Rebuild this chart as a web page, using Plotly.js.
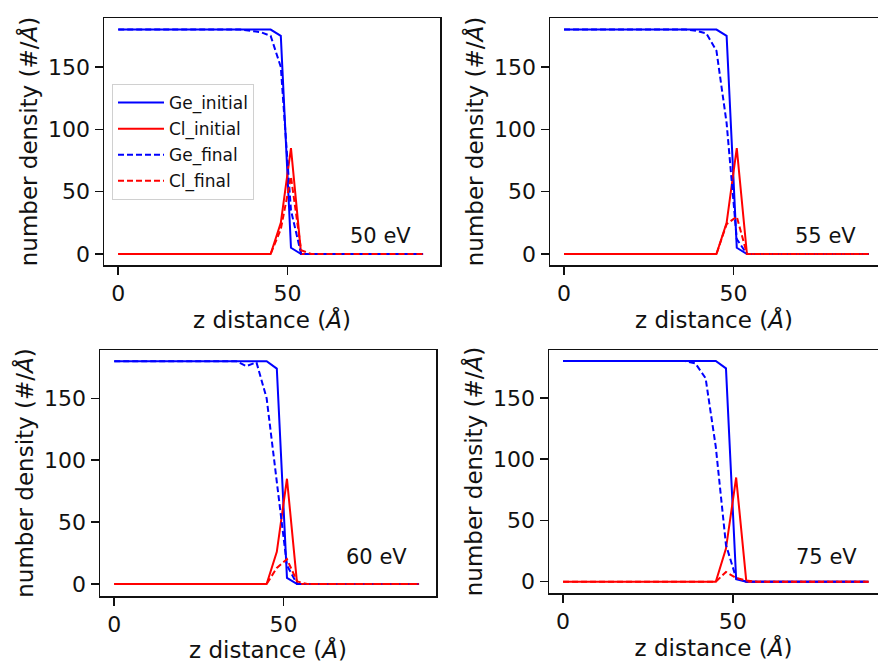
<!DOCTYPE html>
<html>
<head>
<meta charset="utf-8">
<script src="https://cdn.plot.ly/plotly-3.0.1.min.js"></script>
<style>html,body{margin:0;padding:0;background:#fff;}#chart{width:878px;height:663px;}</style>
</head>
<body>
<div id="chart"></div>
<script>
// z distance (Å) grid
const z = [0,3,6,9,12,15,18,21,24,27,30,33,36,39,42,45,48,51,54,57,60,63,66,69,72,75,78,81,84,87,90];

// 50 eV
const ge_initial_50 = [180,180,180,180,180,180,180,180,180,180,180,180,180,180,180,180,175,5,0,0,0,0,0,0,0,0,0,0,0,0,0];
const cl_initial_50 = [0,0,0,0,0,0,0,0,0,0,0,0,0,0,0,0,25,85,0,0,0,0,0,0,0,0,0,0,0,0,0];
const ge_final_50   = [180,180,180,180,180,180,180,180,180,180,180,180,180,179,178,175,150,35,0,0,0,0,0,0,0,0,0,0,0,0,0];
const cl_final_50   = [0,0,0,0,0,0,0,0,0,0,0,0,0,0,0,0,20,62,3,0,0,0,0,0,0,0,0,0,0,0,0];

// 55 eV
const ge_initial_55 = [180,180,180,180,180,180,180,180,180,180,180,180,180,180,180,180,175,5,0,0,0,0,0,0,0,0,0,0,0,0,0];
const cl_initial_55 = [0,0,0,0,0,0,0,0,0,0,0,0,0,0,0,0,25,85,0,0,0,0,0,0,0,0,0,0,0,0,0];
const ge_final_55   = [180,180,180,180,180,180,180,180,180,180,180,180,180,179,177,163,105,12,0,0,0,0,0,0,0,0,0,0,0,0,0];
const cl_final_55   = [0,0,0,0,0,0,0,0,0,0,0,0,0,0,0,0,24,30,0,0,0,0,0,0,0,0,0,0,0,0,0];

// 60 eV
const ge_initial_60 = [180,180,180,180,180,180,180,180,180,180,180,180,180,180,180,180,174,5,0,0,0,0,0,0,0,0,0,0,0,0,0];
const cl_initial_60 = [0,0,0,0,0,0,0,0,0,0,0,0,0,0,0,0,26,85,0,0,0,0,0,0,0,0,0,0,0,0,0];
const ge_final_60   = [180,180,180,180,180,180,180,180,180,180,180,180,180,176,179,150,80,15,0,0,0,0,0,0,0,0,0,0,0,0,0];
const cl_final_60   = [0,0,0,0,0,0,0,0,0,0,0,0,0,0,0,0,13,20,2,0,0,0,0,0,0,0,0,0,0,0,0];

// 75 eV
const ge_initial_75 = [180,180,180,180,180,180,180,180,180,180,180,180,180,180,180,180,174,2,0,0,0,0,0,0,0,0,0,0,0,0,0];
const cl_initial_75 = [0,0,0,0,0,0,0,0,0,0,0,0,0,0,0,0,27,85,0,0,0,0,0,0,0,0,0,0,0,0,0];
const ge_final_75   = [180,180,180,180,180,180,180,180,180,180,180,180,180,178,166,110,30,3,0,0,0,0,0,0,0,0,0,0,0,0,0];
const cl_final_75   = [0,0,0,0,0,0,0,0,0,0,0,0,0,0,0,0,8,3,1,0,0,0,0,0,0,0,0,0,0,0,0];

const seriesNames = ['Ge_initial','Cl_initial','Ge_final','Cl_final'];
const energyLabels = ['50 eV','55 eV','60 eV','75 eV'];
const panels = [
  [ge_initial_50, cl_initial_50, ge_final_50, cl_final_50],
  [ge_initial_55, cl_initial_55, ge_final_55, cl_final_55],
  [ge_initial_60, cl_initial_60, ge_final_60, cl_final_60],
  [ge_initial_75, cl_initial_75, ge_final_75, cl_final_75]
];
const xTicks = [0, 50];
const yTicks = [0, 50, 100, 150];

const styles = [
  {color:'#0000ff', dash:'solid'},
  {color:'#ff0000', dash:'solid'},
  {color:'#0000ff', dash:'6px,3px'},
  {color:'#ff0000', dash:'6px,3px'}
];

const W = 878, H = 663;
// pixel boxes [left, right, top, bottom]
const boxes = [
  [104, 440, 18, 265],
  [550, 878, 18, 265],
  [100, 436, 350, 596],
  [549, 878, 350, 593]
];
const xRanges = [[-4.2, 95], [-4.15, 92.7], [-4.2, 95], [-4.15, 92.8]];
const yRanges = [[-8.8, 189.3], [-8.8, 189.3], [-9.7, 189], [-9.2, 189]];
const labelPos = [[0.824, 0.117], [0.841, 0.117], [0.824, 0.159], [0.842, 0.148]];

const FONT = 'DejaVu Sans, sans-serif';
const traces = [];
const layout = {
  width: W, height: H,
  margin: {l:0, r:0, t:0, b:0},
  paper_bgcolor: '#ffffff', plot_bgcolor: '#ffffff',
  font: {family: FONT, color: '#111'},
  showlegend: true,
  legend: {
    x: 112/W, y: 1 - 84/H, xanchor: 'left', yanchor: 'top',
    bgcolor: 'rgba(255,255,255,0.85)', bordercolor: '#d0d0d0', borderwidth: 1,
    font: {family: FONT, size: 17, color: '#111'},
    tracegroupgap: 1, itemwidth: 46
  },
  annotations: []
};

panels.forEach((p, i) => {
  const n = i + 1;
  const xa = n === 1 ? 'x' : 'x' + n;
  const ya = n === 1 ? 'y' : 'y' + n;
  p.forEach((vals, k) => {
    traces.push({
      x: z, y: vals, type: 'scatter', mode: 'lines',
      name: seriesNames[k], legendgroup: seriesNames[k],
      showlegend: i === 0,
      line: {color: styles[k].color, dash: styles[k].dash, width: 2},
      xaxis: xa, yaxis: ya
    });
  });
  const b = boxes[i];
  const cutRight = b[1] >= W;
  layout['xaxis' + (n === 1 ? '' : n)] = {
    domain: [b[0]/W, Math.min(1, b[1]/W)],
    anchor: ya,
    range: xRanges[i],
    tickvals: xTicks,
    showline: true, linecolor: '#111', linewidth: 1.5, mirror: true,
    ticks: 'outside', ticklen: 8, tickwidth: 1.5, tickcolor: '#111',
    showgrid: false, zeroline: false,
    tickfont: {family: FONT, size: 22, color: '#111'},
    title: {text: 'z distance (<i>Å</i>)', font: {family: FONT, size: 23, color: '#111'}, standoff: 4}
  };
  layout['yaxis' + (n === 1 ? '' : n)] = {
    domain: [1 - b[3]/H, 1 - b[2]/H],
    anchor: xa,
    range: yRanges[i],
    tickvals: yTicks,
    showline: true, linecolor: '#111', linewidth: 1.5, mirror: cutRight ? false : true,
    ticks: 'outside', ticklen: 8, tickwidth: 1.5, tickcolor: '#111',
    showgrid: false, zeroline: false,
    tickfont: {family: FONT, size: 22, color: '#111'},
    title: {text: 'number density (#/<i>Å</i>)', font: {family: FONT, size: 23, color: '#111'}, standoff: 4}
  };
  layout.annotations.push({
    text: energyLabels[i], showarrow: false,
    xref: xa + ' domain', yref: ya + ' domain',
    x: labelPos[i][0], y: labelPos[i][1], xanchor: 'center', yanchor: 'middle',
    font: {family: FONT, size: 21, color: '#111'}
  });
});

Plotly.newPlot('chart', traces, layout, {displayModeBar: false, staticPlot: true});
</script>
</body>
</html>
